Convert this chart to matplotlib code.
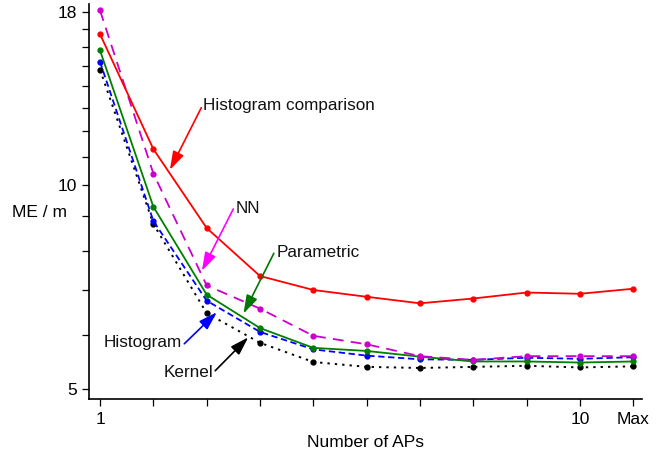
import matplotlib
matplotlib.use('Agg')
import matplotlib.pyplot as plt
from matplotlib.ticker import FixedLocator, NullFormatter, FixedFormatter

plt.rcParams['font.family'] = ['Liberation Sans', 'DejaVu Sans']

# number of APs, 11 = "Max"
n_aps = [1, 2, 3, 4, 5, 6, 7, 8, 9, 10, 11]
x_ticklabels = ['1', '', '', '', '', '', '', '', '', '10', 'Max']

hist_comp = [16.7, 11.3, 8.64, 7.34, 7.00, 6.84, 6.69, 6.80, 6.94, 6.91, 7.03]
nn = [18.1, 10.4, 7.11, 6.57, 5.99, 5.82, 5.59, 5.52, 5.59, 5.59, 5.59]
parametric = [15.8, 9.29, 6.89, 6.15, 5.75, 5.69, 5.58, 5.49, 5.49, 5.47, 5.49]
histogram = [15.2, 8.85, 6.75, 6.07, 5.72, 5.60, 5.53, 5.52, 5.56, 5.54, 5.57]
kernel = [14.8, 8.76, 6.47, 5.85, 5.48, 5.39, 5.37, 5.39, 5.41, 5.38, 5.40]

y_major = [5, 10, 18]
y_minor = [6, 7, 8, 9, 11, 12, 13, 14, 15, 16, 17]

fig = plt.figure(figsize=(6.72, 4.5), dpi=100)
ax = fig.add_axes([0.133, 0.113, 0.822, 0.878])

ax.plot(n_aps, kernel, color='black', ls=(0, (1.2, 2.6)), lw=1.4, marker='o', ms=3.5)
ax.plot(n_aps, histogram, color='#0000ff', ls=(0, (3.5, 2)), lw=1.3, marker='o', ms=3.5)
ax.plot(n_aps, parametric, color='#008000', ls='-', lw=1.3, marker='o', ms=3.5)
ax.plot(n_aps, nn, color='#cc00cc', ls=(0, (6, 4)), lw=1.3, marker='o', ms=3.5)
ax.plot(n_aps, hist_comp, color='#ff0000', ls='-', lw=1.3, marker='o', ms=3.5)

ax.set_yscale('log')
ax.set_xlim(0.8, 11.16)
ax.set_ylim(4.83, 18.5)

ax.xaxis.set_major_locator(FixedLocator(n_aps))
ax.xaxis.set_major_formatter(FixedFormatter(x_ticklabels))
ax.xaxis.set_minor_locator(FixedLocator([]))
ax.yaxis.set_major_locator(FixedLocator(y_major))
ax.yaxis.set_major_formatter(FixedFormatter([str(v) for v in y_major]))
ax.yaxis.set_minor_locator(FixedLocator(y_minor))
ax.yaxis.set_minor_formatter(NullFormatter())
ax.tick_params(which='both', direction='out', length=5, width=0.9, labelsize=12.5, pad=4)

for s in ['top', 'right']:
    ax.spines[s].set_visible(False)
for s in ['left', 'bottom']:
    ax.spines[s].set_linewidth(1.2)

ax.set_xlabel('Number of APs', fontsize=12.5, labelpad=6)
ax.set_ylabel('ME / m', fontsize=12.5, rotation=0, ha='right', va='center')
ax.yaxis.set_label_coords(-0.040, 0.473)

# annotations: (text, text pos, ha, arrow start, arrow tip, arrow colour)
notes = [
    ('Histogram comparison', (2.93, 13.09), 'left', (2.90, 13.01), (2.31, 10.53), '#ff0000'),
    ('NN', (3.55, 9.24), 'left', (3.50, 9.22), (2.91, 7.47), '#ff00ff'),
    ('Parametric', (4.32, 7.95), 'left', (4.26, 7.93), (3.69, 6.46), '#007700'),
    ('Histogram', (2.54, 5.85), 'right', (2.58, 5.83), (3.19, 6.49), '#0000ff'),
    ('Kernel', (3.12, 5.29), 'right', (3.16, 5.32), (3.78, 5.96), 'black'),
]
for label, tpos, ha, start, tip, col in notes:
    ax.text(tpos[0], tpos[1], label, ha=ha, va='center', fontsize=12.3, color='#111111')
    ax.annotate('', xy=tip, xytext=start,
                arrowprops=dict(arrowstyle='-|>,head_length=0.7,head_width=0.22',
                                color=col, lw=1.2, mutation_scale=16,
                                shrinkA=0, shrinkB=0))

fig.savefig('out.png', dpi=100)
